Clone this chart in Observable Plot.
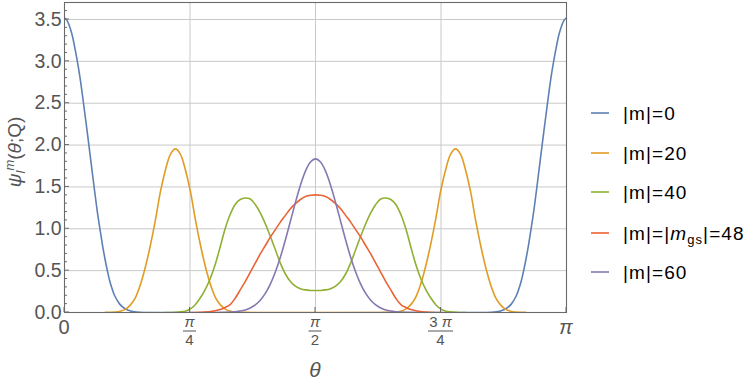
<!DOCTYPE html>
<html><head><meta charset="utf-8">
<script src="https://cdn.jsdelivr.net/npm/d3@7"></script>
<script src="https://cdn.jsdelivr.net/npm/@observablehq/plot@0.6"></script>
<style>
html,body{margin:0;padding:0;background:#fff;}
#chart{position:relative;width:755px;height:385px;overflow:hidden;}
</style></head><body><div id="chart"></div>
<script>
// theta in units of pi
const theta0 = [0,0.005,0.01,0.015,0.02,0.025,0.03,0.035,0.04,0.045,0.05,0.055,0.06,0.065,0.07,0.075,0.08,0.085,0.09,0.095,0.1,0.11,0.12,0.13,0.14,0.15,0.17,0.83,0.85,0.86,0.87,0.88,0.89,0.9,0.905,0.91,0.915,0.92,0.925,0.93,0.935,0.94,0.945,0.95,0.955,0.96,0.965,0.97,0.975,0.98,0.985,0.99,0.995,1];
const psi0   = [3.52,3.49,3.42,3.32,3.18,3.02,2.84,2.63,2.40,2.17,1.93,1.69,1.45,1.22,1.02,0.83,0.66,0.51,0.38,0.28,0.2,0.1,0.048,0.02,0.008,0.003,0,0,0.003,0.008,0.02,0.048,0.1,0.2,0.28,0.38,0.51,0.66,0.83,1.02,1.22,1.45,1.69,1.93,2.17,2.40,2.63,2.84,3.02,3.18,3.32,3.42,3.49,3.52];

const theta20 = [0.081,0.101,0.111,0.121,0.131,0.141,0.151,0.161,0.171,0.181,0.191,0.201,0.211,0.221,0.231,0.241,0.251,0.261,0.271,0.281,0.291,0.301,0.311,0.321,0.331,0.341,0.361,0.381,
                 0.619,0.639,0.659,0.669,0.679,0.689,0.699,0.709,0.719,0.729,0.739,0.749,0.759,0.769,0.779,0.789,0.799,0.809,0.819,0.829,0.839,0.849,0.859,0.869,0.879,0.889,0.899,0.919];
const psi20   = [0.001,0.006,0.015,0.038,0.088,0.175,0.33,0.54,0.80,1.10,1.44,1.70,1.89,1.955,1.89,1.70,1.44,1.10,0.80,0.54,0.33,0.175,0.088,0.038,0.015,0.006,0.001,0,
                 0,0.001,0.006,0.015,0.038,0.088,0.175,0.33,0.54,0.80,1.10,1.44,1.70,1.89,1.955,1.89,1.70,1.44,1.10,0.80,0.54,0.33,0.175,0.088,0.038,0.015,0.006,0.001];

const theta40 = [0.2,0.22,0.23,0.24,0.25,0.26,0.27,0.28,0.29,0.3,0.31,0.32,0.33,0.34,0.35,0.36,0.37,0.38,0.39,0.4,0.41,0.42,0.43,0.44,0.45,0.46,0.47,0.48,0.49,0.5,
                 0.51,0.52,0.53,0.54,0.55,0.56,0.57,0.58,0.59,0.6,0.61,0.62,0.63,0.64,0.65,0.66,0.67,0.68,0.69,0.7,0.71,0.72,0.73,0.74,0.75,0.76,0.77,0.78,0.8];
const psi40   = [0,0.003,0.007,0.016,0.04,0.09,0.17,0.27,0.40,0.57,0.78,1.00,1.17,1.29,1.35,1.367,1.355,1.29,1.19,1.06,0.91,0.75,0.59,0.46,0.37,0.315,0.285,0.27,0.263,0.262,
                 0.263,0.27,0.285,0.315,0.37,0.46,0.59,0.75,0.91,1.06,1.19,1.29,1.355,1.367,1.35,1.29,1.17,1.00,0.78,0.57,0.40,0.27,0.17,0.09,0.04,0.016,0.007,0.003,0];

const theta48 = [0.25,0.27,0.29,0.3,0.31,0.32,0.33,0.34,0.35,0.36,0.37,0.38,0.39,0.4,0.41,0.42,0.43,0.44,0.45,0.46,0.47,0.48,0.49,0.5,
                 0.51,0.52,0.53,0.54,0.55,0.56,0.57,0.58,0.59,0.6,0.61,0.62,0.63,0.64,0.65,0.66,0.67,0.68,0.69,0.7,0.71,0.73,0.75];
const psi48   = [0,0.003,0.01,0.02,0.035,0.06,0.095,0.17,0.27,0.37,0.48,0.59,0.70,0.80,0.90,0.99,1.08,1.16,1.24,1.30,1.35,1.385,1.40,1.405,
                 1.40,1.385,1.35,1.30,1.24,1.16,1.08,0.99,0.90,0.80,0.70,0.59,0.48,0.37,0.27,0.17,0.095,0.06,0.035,0.02,0.01,0.003,0];

const theta60 = [0.3,0.32,0.34,0.35,0.36,0.37,0.38,0.39,0.4,0.41,0.42,0.43,0.44,0.45,0.46,0.47,0.48,0.49,0.5,
                 0.51,0.52,0.53,0.54,0.55,0.56,0.57,0.58,0.59,0.6,0.61,0.62,0.63,0.64,0.65,0.66,0.68,0.7];
const psi60   = [0,0.002,0.009,0.017,0.031,0.054,0.091,0.147,0.228,0.339,0.484,0.661,0.867,1.09,1.315,1.521,1.688,1.797,1.835,
                 1.797,1.688,1.521,1.315,1.09,0.867,0.661,0.484,0.339,0.228,0.147,0.091,0.054,0.031,0.017,0.009,0.002,0];

const seriesNames = ["|m|=0","|m|=20","|m|=40","|m|=|m_gs|=48","|m|=60"];
const seriesColors = ["#5E81B5","#E19C24","#8FB032","#EB6235","#8778B3"];
const yTicks = [0,0.5,1,1.5,2,2.5,3,3.5];
const yMinor = d3.range(0, 37).map(i => i/10);
const xTicks = [0,0.25,0.5,0.75,1];
const xTickNum = ["0","π","π","3 π","π"];
const xTickDen = [null,"4","2","4",null];

const table = [];
[[theta0,psi0],[theta20,psi20],[theta40,psi40],[theta48,psi48],[theta60,psi60]].forEach(([ts,vs],i)=>{
  ts.forEach((t,j)=>table.push({t, v: vs[j], s: seriesNames[i]}));
});

const W=755,H=385,mL=64,mR=189,mT=2,mB=73,yMax=3.703;
const FONT = "'Liberation Sans', Arial, sans-serif";
const TXT = "#555";

const chart = Plot.plot({
  width: W, height: H,
  marginLeft: mL, marginRight: mR, marginTop: mT, marginBottom: mB,
  x: {domain:[0,1], axis:null},
  y: {domain:[0,yMax], axis:null},
  color: {domain: seriesNames, range: seriesColors},
  style: {background:"#fff", fontFamily: FONT},
  marks: [
    Plot.ruleX(xTicks.slice(1,-1), {stroke:"#c9c9c9", strokeWidth:1}),
    Plot.ruleY(yTicks.slice(1), {stroke:"#c9c9c9", strokeWidth:1}),
    Plot.line(table, {x:"t", y:"v", z:"s", stroke:"s", strokeWidth:1.6, curve:"catmull-rom", clip:true}),
    Plot.frame({stroke:"#6a6a6a", strokeWidth:1.1}),
    Plot.text(yTicks, {y: d=>d, text: d=>d.toFixed(1), frameAnchor:"left", textAnchor:"end", dx:-3, fontSize:19.5, fill:TXT, lineAnchor:"middle"})
  ]
});
document.getElementById("chart").append(chart);

const svg = d3.select(chart);
const xs = d3.scaleLinear([0,1],[mL, W-mR]);
const ys = d3.scaleLinear([0,yMax],[H-mB, mT]);
const g = svg.append("g").attr("text-anchor","start");

// inward y ticks
yMinor.forEach(v=>{
  const major = Math.abs(v*2 - Math.round(v*2)) < 1e-6;
  g.append("line").attr("x1",mL).attr("x2",mL+(major?5:3)).attr("y1",ys(v)).attr("y2",ys(v))
   .attr("stroke","#6a6a6a").attr("stroke-width",1);
});
// inward x ticks
xTicks.forEach(t=>{
  g.append("line").attr("x1",xs(t)).attr("x2",xs(t)).attr("y1",H-mB).attr("y2",H-mB-5)
   .attr("stroke","#6a6a6a").attr("stroke-width",1);
});
// x tick labels
xTicks.forEach((t,i)=>{
  const x = xs(t);
  if (xTickDen[i] === null) {
    const tx = g.append("text").attr("x",x).attr("y",334).attr("text-anchor","middle")
      .attr("font-family",FONT).attr("font-size",20).attr("fill",TXT).text(xTickNum[i]);
    if (xTickNum[i]==="π") tx.attr("font-style","italic");
  } else {
    const num = g.append("text").attr("x",x).attr("y",327).attr("text-anchor","middle")
      .attr("font-family",FONT).attr("font-size",15).attr("fill",TXT);
    if (xTickNum[i].startsWith("3")) { num.append("tspan").text("3 "); }
    num.append("tspan").attr("font-style","italic").text("π");
    const bw = xTickNum[i].startsWith("3") ? 25 : 13;
    g.append("line").attr("x1",x-bw/2).attr("x2",x+bw/2).attr("y1",331).attr("y2",331)
      .attr("stroke",TXT).attr("stroke-width",1);
    g.append("text").attr("x",x).attr("y",345).attr("text-anchor","middle")
      .attr("font-family",FONT).attr("font-size",15).attr("fill",TXT).text(xTickDen[i]);
  }
});
// axis titles
g.append("text").attr("x",xs(0.5)).attr("y",377).attr("text-anchor","middle")
  .attr("font-family",FONT).attr("font-size",21).attr("font-style","italic").attr("fill",TXT).text("θ");
const yt = g.append("text").attr("transform","translate(21,152) rotate(-90)").attr("text-anchor","middle")
  .attr("font-family",FONT).attr("font-size",19).attr("fill",TXT);
yt.append("tspan").attr("font-style","italic").text("ψ");
yt.append("tspan").attr("font-style","italic").attr("font-size",13).attr("dy",4).text("l");
yt.append("tspan").attr("font-style","italic").attr("font-size",13).attr("dy",-11).text("m");
yt.append("tspan").attr("dy",7).text("(");
yt.append("tspan").attr("font-style","italic").text("θ");
yt.append("tspan").text(";Q)");

// legend
const legY = [113,153,192,233,272];
seriesNames.forEach((name,i)=>{
  const y = legY[i];
  g.append("line").attr("x1",591).attr("x2",609).attr("y1",y).attr("y2",y)
    .attr("stroke",seriesColors[i]).attr("stroke-width",1.6);
  const t = g.append("text").attr("x",623).attr("y",y+7).attr("text-anchor","start").attr("font-family",FONT)
    .attr("font-size",19).attr("fill","#000").attr("letter-spacing",1.1);
  if (name.includes("m_gs")) {
    t.append("tspan").text("|m|=|");
    t.append("tspan").attr("font-style","italic").text("m");
    t.append("tspan").attr("font-size",13).attr("dy",4).text("gs");
    t.append("tspan").attr("dy",-4).text("|=48");
  } else {
    t.text(name);
  }
});
</script>
</body></html>
